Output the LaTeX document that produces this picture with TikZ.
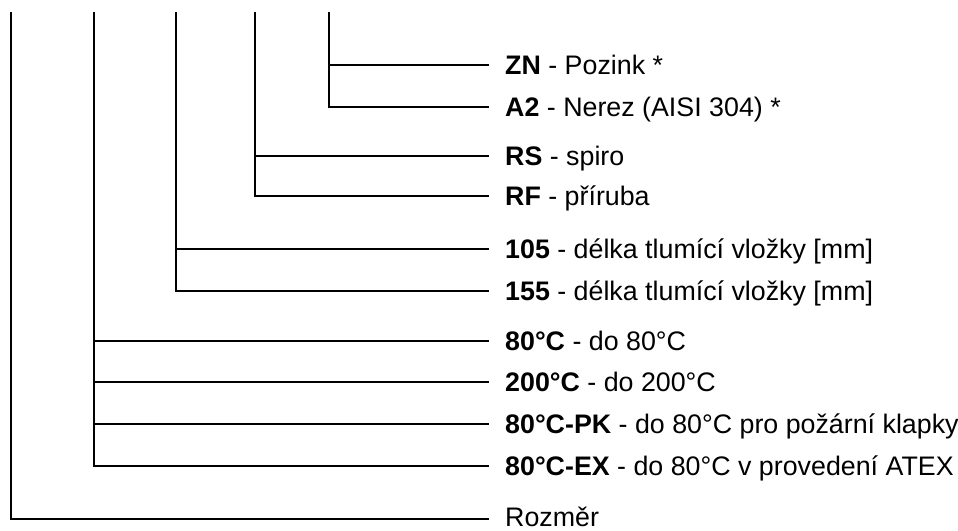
\documentclass[tikz,border=0pt]{standalone}
\usepackage{fontspec}
\setmainfont{Liberation Sans}
\tikzset{item/.style = {anchor=west, inner xsep=16pt, inner ysep=0pt, text height=19.2pt, text depth=0pt, font=\fontsize{26.8}{32}\selectfont},
         branch/.style = {line width=1.5pt}}

\begin{document}
\begin{tikzpicture}[x=1pt,y=-1pt]
        \useasboundingbox(0,0)rectangle(958,530);

        \node[item](zn)at(489,65){\textbf{ZN} - Pozink *};
        \node[item](atwo)at(489,107){\textbf{A2} - Nerez (AISI 304) *};
        \node[item](rs)at(489,156){\textbf{RS} - spiro};
        \node[item](rf)at(489,196){\textbf{RF} - příruba};
        \node[item](len105)at(489,249){\textbf{105} - délka tlumící vložky [mm]};
        \node[item](len155)at(489,291){\textbf{155} - délka tlumící vložky [mm]};
        \node[item](temp80)at(489,341){\textbf{80°C} - do 80°C};
        \node[item](temp200)at(489,382){\textbf{200°C} - do 200°C};
        \node[item](temppk)at(489,424){\textbf{80°C-PK} - do 80°C pro požární klapky};
        \node[item](tempex)at(489,466){\textbf{80°C-EX} - do 80°C v provedení ATEX};
        \node[item,text depth=4pt](size)at(489,519){Rozměr};

        \coordinate(sizetop)at(11,12);
        \coordinate(temptop)at(94,12);
        \coordinate(lentop)at(176,12);
        \coordinate(jointop)at(255,12);
        \coordinate(mattop)at(329,12);

        \draw[branch](mattop)|-(zn);
        \draw[branch](mattop)|-(atwo);
        \draw[branch](jointop)|-(rs);
        \draw[branch](jointop)|-(rf);
        \draw[branch](lentop)|-(len105);
        \draw[branch](lentop)|-(len155);
        \draw[branch](temptop)|-(temp80);
        \draw[branch](temptop)|-(temp200);
        \draw[branch](temptop)|-(temppk);
        \draw[branch](temptop)|-(tempex);
        \draw[branch](sizetop)|-(size);
    \end{tikzpicture}
\end{document}
